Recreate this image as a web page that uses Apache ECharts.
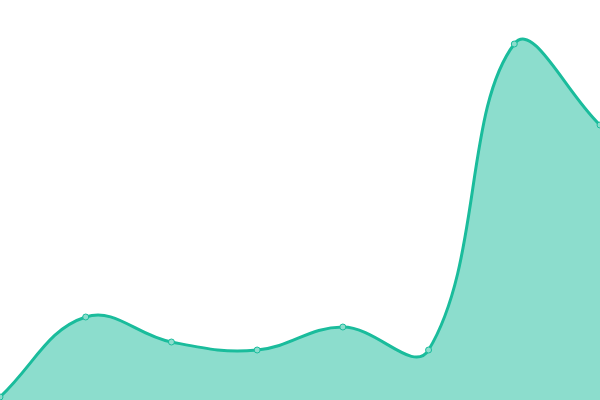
<!DOCTYPE html>
<html>
<head>
<meta charset="utf-8">
<script src="https://cdn.jsdelivr.net/npm/echarts@6/dist/echarts.min.js"></script>
<style>html,body{margin:0;padding:0;background:#fff}#c{width:600px;height:400px}</style>
</head>
<body>
<div id="c"></div>
<script>
const categories = ['1', '2', '3', '4', '5', '6', '7', '8'];
const values = [3, 83, 58, 50, 73, 50, 356, 275];

const LINE_COLOR = '#1abc9c';
const AREA_COLOR = 'rgba(26,188,156,0.5)';
const TENSION = 0.4;

// Distance-weighted spline through the points, built from axis coordinates.
function splinePath(pts) {
  const n = pts.length;
  const cps = pts.map((p, i) => {
    const a = pts[i - 1] || p;
    const b = pts[i + 1] || p;
    const d01 = Math.hypot(p[0] - a[0], p[1] - a[1]);
    const d12 = Math.hypot(b[0] - p[0], b[1] - p[1]);
    const sum = d01 + d12 || 1;
    const s01 = d01 / sum, s12 = d12 / sum;
    const vx = b[0] - a[0], vy = b[1] - a[1];
    return {
      prev: [p[0] - TENSION * s01 * vx, p[1] - TENSION * s01 * vy],
      next: [p[0] + TENSION * s12 * vx, p[1] + TENSION * s12 * vy]
    };
  });
  let d = 'M' + pts[0][0] + ' ' + pts[0][1];
  for (let i = 0; i < n - 1; i++) {
    const c1 = cps[i].next, c2 = cps[i + 1].prev, p2 = pts[i + 1];
    d += ' C' + c1[0] + ' ' + c1[1] + ' ' + c2[0] + ' ' + c2[1] + ' ' + p2[0] + ' ' + p2[1];
  }
  return d;
}

const chart = echarts.init(document.getElementById('c'), null, { renderer: 'canvas' });
chart.setOption({
  animation: false,
  grid: { left: 0, right: 0, top: 0, bottom: 0 },
  xAxis: { type: 'category', data: categories, boundaryGap: false, show: false },
  yAxis: { type: 'value', min: 0, max: 400, show: false },
  series: [
    {
      type: 'custom',
      coordinateSystem: 'cartesian2d',
      clip: false,
      data: values.map((v, i) => [i, v]),
      encode: { x: 0, y: 1 },
      renderItem: function (params, api) {
        if (params.dataIndex !== 0) return null;
        const pts = values.map((v, i) => api.coord([i, v]));
        const base = api.coord([0, 0])[1];
        const curve = splinePath(pts);
        const area = curve + ' L' + pts[pts.length - 1][0] + ' ' + base + ' L' + pts[0][0] + ' ' + base + ' Z';
        return {
          type: 'group',
          children: [
            { type: 'path', shape: { pathData: area }, style: { fill: AREA_COLOR, stroke: null } },
            { type: 'path', shape: { pathData: curve }, style: { fill: null, stroke: LINE_COLOR, lineWidth: 3 } }
          ]
        };
      }
    },
    {
      type: 'line',
      data: values,
      z: 5,
      symbol: 'circle',
      symbolSize: 6,
      lineStyle: { opacity: 0 },
      itemStyle: { color: '#8cddcd', borderColor: LINE_COLOR, borderWidth: 1 }
    }
  ]
});
</script>
</body>
</html>
